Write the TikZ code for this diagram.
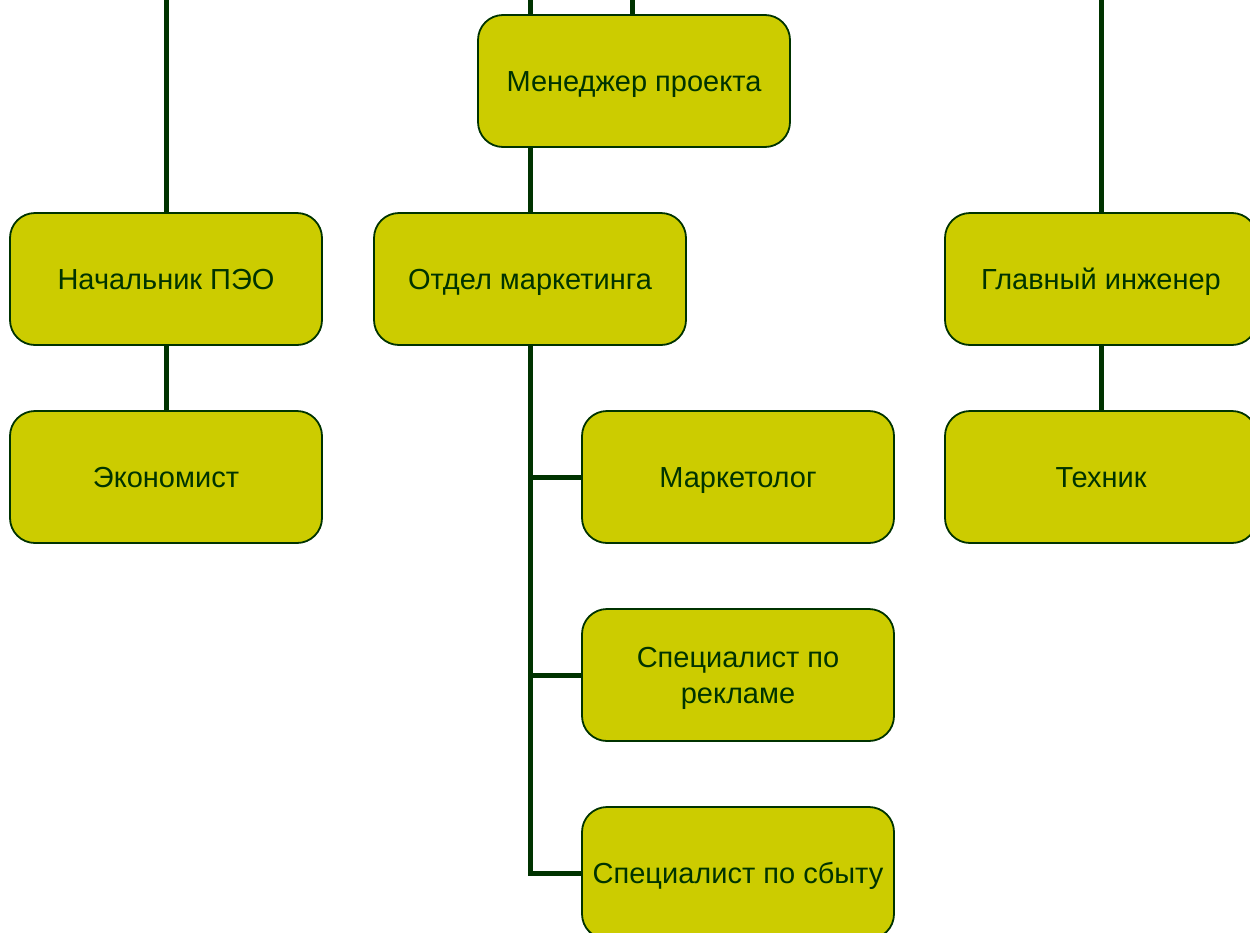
\documentclass[tikz,border=0pt]{standalone}
\usepackage{fontspec}
\setmainfont{Liberation Sans}
\usetikzlibrary{backgrounds}
\definecolor{boxfill}{HTML}{CCCC00}
\definecolor{darkline}{HTML}{003300}
\begin{document}
\begin{tikzpicture}[x=1pt,y=-1pt,
  orgbox/.style={draw=darkline, line width=1.8pt, fill=boxfill, rounded corners=25pt,
    minimum width=312pt, minimum height=132pt, inner sep=0pt, align=center,
    text=darkline, font=\fontsize{29}{36}\selectfont,
    text height=21pt, text depth=0pt},
  twoline/.style={text height=57pt, text depth=1pt},
  link/.style={draw=darkline, line width=5pt, line join=miter}]
\useasboundingbox (0,0) rectangle (1250,932);
\clip (0,0) rectangle (1250,932);
% boxes
\node[orgbox] (mgr)   at (634,81)   {Менеджер проекта};
\node[orgbox] (peo)   at (166,279)  {Начальник ПЭО};
\node[orgbox] (mkt)   at (530,279)  {Отдел маркетинга};
\node[orgbox] (eng)   at (1101,279) {Главный инженер};
\node[orgbox] (eco)   at (166,477)  {Экономист};
\node[orgbox] (tech)  at (1101,477) {Техник};
\node[orgbox] (mark)  at (738,477)  {Маркетолог};
\node[orgbox,twoline] (adv) at (738,675) {Специалист по\\рекламе};
\node[orgbox] (sales) at (738,873)  {Специалист по сбыту};
% free ends of the links leaving the top edge
\coordinate (topA) at (166,-5);
\coordinate (topB) at (530,-5);
\coordinate (topC) at (632,-5);
\coordinate (topD) at (1101,-5);
% links behind the boxes
\begin{scope}[on background layer]
\draw[link] (topA) -- (peo);
\draw[link] (peo) -- (eco);
\draw[link] (topB) -- (topB |- mgr.center);
\draw[link] (topC) -- (topC |- mgr.center);
\draw[link] (mkt) -- (mkt |- mgr.center);
\draw[link] (topD) -- (eng);
\draw[link] (eng) -- (tech);
\draw[link] (mkt) |- (sales);
\draw[link] (mkt |- mark) -- (mark);
\draw[link] (mkt |- adv) -- (adv);
\end{scope}
\end{tikzpicture}
\end{document}
